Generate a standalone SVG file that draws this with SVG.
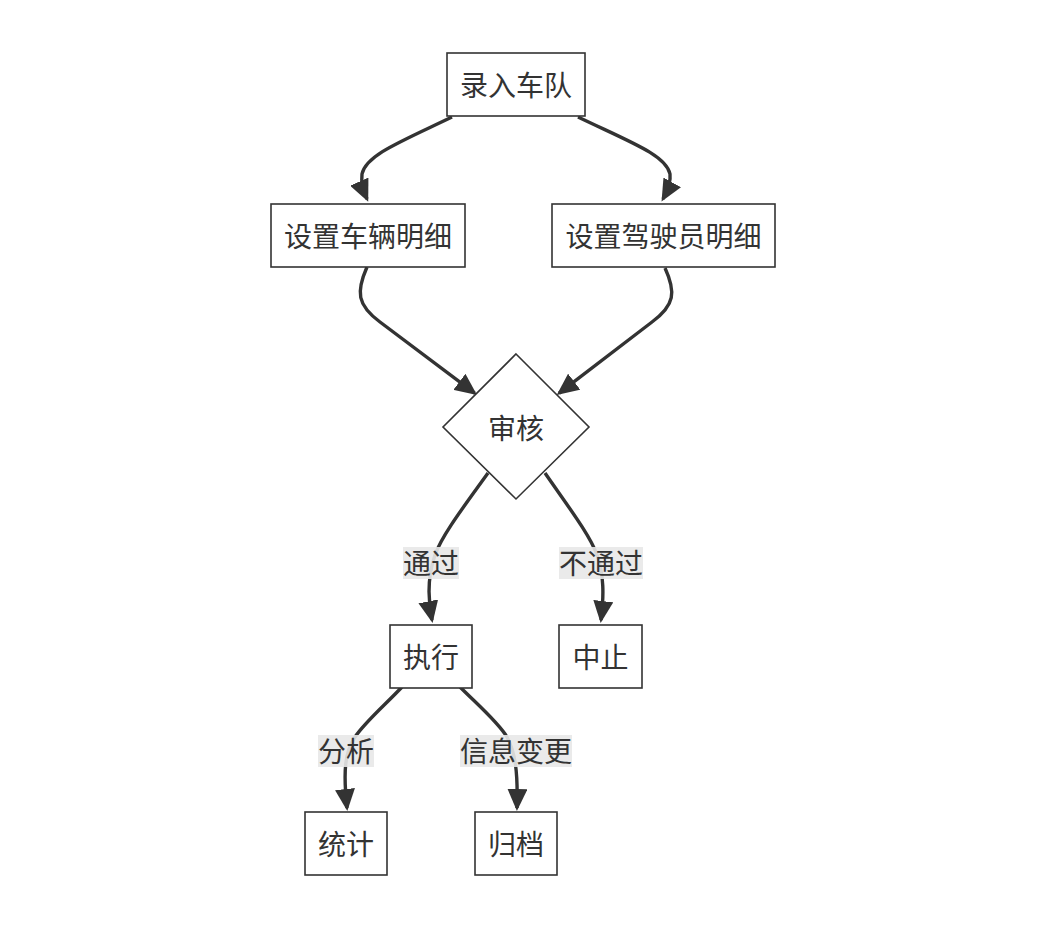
<svg xmlns="http://www.w3.org/2000/svg" width="1046" height="932" viewBox="0 0 1046 932">
<style>
.node rect,.node polygon{fill:#ffffff;stroke:#333333;stroke-width:1.6}
.t{font-family:"Liberation Sans","Noto Sans CJK SC",sans-serif;font-size:28px;fill:#333333;text-anchor:middle;dominant-baseline:central}
.edge{fill:none;stroke:#333333;stroke-width:3.4;marker-end:url(#arrow)}
.lbl rect{fill:#e8e8e8;fill-opacity:0.9;stroke:none}
</style>
<defs>
<marker id="arrow" markerUnits="userSpaceOnUse" markerWidth="22" markerHeight="20" viewBox="0 0 22 20" refX="19" refY="10" orient="auto">
<path d="M0,0 L22,10 L0,20 z" fill="#333333"/>
</marker>
</defs>
<rect width="1046" height="932" fill="#ffffff"/>
<g id="connectors">
<path class="edge" d="M452,117 C400,142 366,155 362,174 C361,182 363,190 367,199"/>
<path class="edge" d="M578,117 C630,142 666,155 670,174 C671,182 668,190 663,199"/>
<path class="edge" d="M367,267 C356,292 357,305 380,322 L474.6,393.2"/>
<path class="edge" d="M665,268 C676,292 675,305 652,322 L559.1,393.2"/>
<path class="edge" d="M488,473 C465,505 442,535 435,555 C428,575 427,595 432,620"/>
<path class="edge" d="M545,473 C567,505 590,535 597,555 C604,575 604,595 601,620"/>
<path class="edge" d="M402,687 C385,705 365,722 355,737 C345,752 343,770 347,808"/>
<path class="edge" d="M460,687 C478,705 498,722 507,737 C515,752 518,770 517,808"/>
</g>
<g id="edge-labels">
<g class="lbl" id="label-pass"><rect x="403" y="547" width="56" height="32"/><text class="t" x="431" y="564.5">通过</text></g>
<g class="lbl" id="label-fail"><rect x="559" y="547" width="84" height="32"/><text class="t" x="601" y="564.5">不通过</text></g>
<g class="lbl" id="label-analyze"><rect x="318" y="735" width="56" height="32"/><text class="t" x="346" y="752.5">分析</text></g>
<g class="lbl" id="label-change"><rect x="460" y="735" width="112" height="32"/><text class="t" x="516" y="752.5">信息变更</text></g>
</g>
<g class="node" id="node-fleet"><rect x="447" y="53" width="138" height="63"/><text class="t" x="516" y="86.5">录入车队</text></g>
<g class="node" id="node-vehicle"><rect x="271" y="204" width="194" height="63"/><text class="t" x="368" y="237.5">设置车辆明细</text></g>
<g class="node" id="node-driver"><rect x="552" y="204" width="223" height="63"/><text class="t" x="663.5" y="237.5">设置驾驶员明细</text></g>
<g class="node" id="node-review"><polygon points="516,354 589,427 516,499 443,427"/><text class="t" x="516" y="429">审核</text></g>
<g class="node" id="node-exec"><rect x="390" y="625" width="82" height="63"/><text class="t" x="431" y="658.5">执行</text></g>
<g class="node" id="node-stop"><rect x="559" y="625" width="83" height="63"/><text class="t" x="600.5" y="658.5">中止</text></g>
<g class="node" id="node-stats"><rect x="305" y="812" width="82" height="63"/><text class="t" x="346" y="845.5">统计</text></g>
<g class="node" id="node-archive"><rect x="475" y="812" width="82" height="63"/><text class="t" x="516" y="845.5">归档</text></g>
</svg>
